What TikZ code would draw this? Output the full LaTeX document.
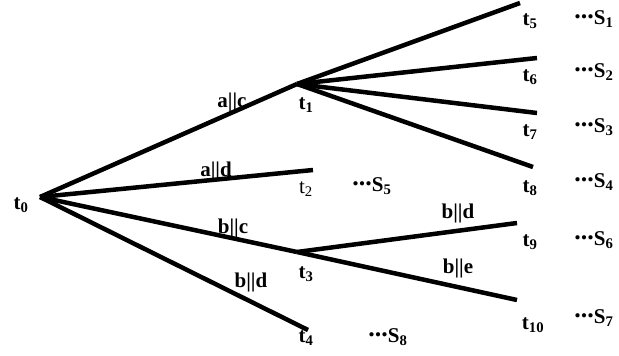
\documentclass[tikz,border=0pt]{standalone}
\usepackage{fontspec}
\setmainfont{Liberation Serif}
\newcommand{\mydots}{\raisebox{0.28em}{\fontsize{26}{26}\selectfont...}}
\begin{document}
\begin{tikzpicture}[x=1pt,y=-1pt,
  edge/.style={line width=4.5pt},
  lbl/.style={font=\fontsize{21}{24}\selectfont\bfseries, inner sep=0pt},
  rlbl/.style={font=\fontsize{21}{24}\selectfont, inner sep=0pt}]
\useasboundingbox (0,0) rectangle (619,356);
% vertices
\coordinate (v0) at (40,197);
\coordinate (v1) at (297,84);
\coordinate (v2) at (313,170);
\coordinate (v3) at (297,252);
\coordinate (v4) at (308,330);
\coordinate (v5) at (520,3);
\coordinate (v6) at (537,58);
\coordinate (v7) at (537,113);
\coordinate (v8) at (533,167);
\coordinate (v9) at (517,223);
\coordinate (v10) at (517,300);
% edges
\draw[edge] (v0) -- (v1);
\draw[edge] (v0) -- (v2);
\draw[edge] (v0) -- (v3);
\draw[edge] (v0) -- (v4);
\draw[edge] (v1) -- (v5);
\draw[edge] (v1) -- (v6);
\draw[edge] (v1) -- (v7);
\draw[edge] (v1) -- (v8);
\draw[edge] (v3) -- (v9);
\draw[edge] (v3) -- (v10);
% vertex labels
\node[lbl] (t0) at (21,205) {t\textsubscript{0}};
\node[lbl] (t1) at (306,105) {t\textsubscript{1}};
\node[rlbl] (t2) at (306,189) {t\textsubscript{2}};
\node[lbl] (t3) at (306,274) {t\textsubscript{3}};
\node[lbl] (t4) at (306,338) {t\textsubscript{4}};
\node[lbl] (t5) at (530,21) {t\textsubscript{5}};
\node[lbl] (t6) at (530,77) {t\textsubscript{6}};
\node[lbl] (t7) at (530,132) {t\textsubscript{7}};
\node[lbl] (t8) at (530,188) {t\textsubscript{8}};
\node[lbl] (t9) at (530,242) {t\textsubscript{9}};
\node[lbl] (t10) at (533,325) {t\textsubscript{10}};
% state labels
\node[lbl] (s1) at (594,19) {\mydots S\textsubscript{1}};
\node[lbl] (s2) at (594,72) {\mydots S\textsubscript{2}};
\node[lbl] (s3) at (594,127) {\mydots S\textsubscript{3}};
\node[lbl] (s4) at (594,182) {\mydots S\textsubscript{4}};
\node[lbl] (s5) at (372,186) {\mydots S\textsubscript{5}};
\node[lbl] (s6) at (594,240) {\mydots S\textsubscript{6}};
\node[lbl] (s7) at (594,318) {\mydots S\textsubscript{7}};
\node[lbl] (s8) at (388,337) {\mydots S\textsubscript{8}};
% edge labels
\node[lbl] (e1) at (232,102) {a||c};
\node[lbl] (e2) at (216,171) {a||d};
\node[lbl] (e3) at (233,228) {b||c};
\node[lbl] (e4) at (251,282) {b||d};
\node[lbl] (e5) at (458,213) {b||d};
\node[lbl] (e6) at (458,268) {b||e};
\end{tikzpicture}
\end{document}
